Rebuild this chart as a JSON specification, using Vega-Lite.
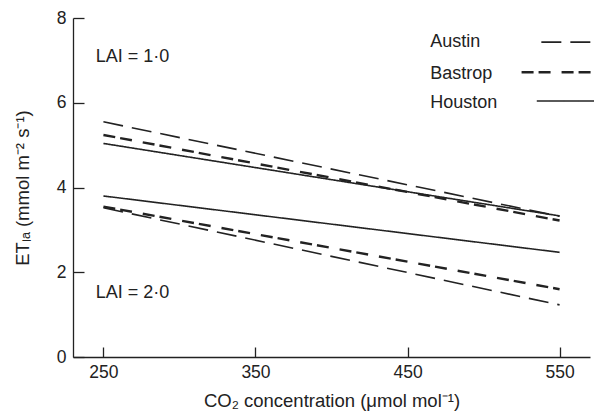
{
  "$schema": "https://vega.github.io/schema/vega-lite/v6.json",
  "autosize": "none",
  "padding": {"left": 73, "top": 18, "right": 4, "bottom": 57},
  "width": 517,
  "height": 339,
  "config": {
    "view": {"stroke": null},
    "font": "Liberation Sans",
    "axis": {"grid": false, "domainColor": "#222", "tickColor": "#222", "labelColor": "#222", "titleColor": "#222", "labelFont": "Liberation Sans", "titleFont": "Liberation Sans", "labelFontSize": 17.5, "titleFontSize": 18.5, "titleFontWeight": "normal", "domainWidth": 1.3, "tickWidth": 1.3}
  },
  "datasets": {
    "lines": [
      {"city": "Austin", "lai": "1.0", "co2": 250, "et": 5.55},
      {"city": "Austin", "lai": "1.0", "co2": 550, "et": 3.32},
      {"city": "Bastrop", "lai": "1.0", "co2": 250, "et": 5.24},
      {"city": "Bastrop", "lai": "1.0", "co2": 550, "et": 3.22},
      {"city": "Houston", "lai": "1.0", "co2": 250, "et": 5.04},
      {"city": "Houston", "lai": "1.0", "co2": 550, "et": 3.33},
      {"city": "Austin", "lai": "2.0", "co2": 250, "et": 3.52},
      {"city": "Austin", "lai": "2.0", "co2": 550, "et": 1.23},
      {"city": "Bastrop", "lai": "2.0", "co2": 250, "et": 3.55},
      {"city": "Bastrop", "lai": "2.0", "co2": 550, "et": 1.6},
      {"city": "Houston", "lai": "2.0", "co2": 250, "et": 3.8},
      {"city": "Houston", "lai": "2.0", "co2": 550, "et": 2.47}
    ],
    "legend": [
      {"city": "Austin", "tx": 465, "x1": 538, "x2": 590, "ty": 7.43, "ly": 7.43},
      {"city": "Bastrop", "tx": 465, "x1": 525, "x2": 590, "ty": 6.67, "ly": 6.72},
      {"city": "Houston", "tx": 465, "x1": 535, "x2": 590, "ty": 5.99, "ly": 6.04}
    ],
    "lai": [
      {"label": "LAI = 1·0", "x": 245, "y": 7.08},
      {"label": "LAI = 2·0", "x": 245, "y": 1.51}
    ]
  },
  "layer": [
    {
      "data": {"name": "lines"},
      "mark": {"type": "line", "color": "#222", "clip": true},
      "encoding": {
        "x": {"field": "co2", "type": "quantitative", "scale": {"domain": [230, 570], "nice": false}, "axis": {"values": [250, 350, 450, 550], "tickSize": -10, "labelPadding": 16, "title": "CO₂ concentration (μmol mol⁻¹)", "titlePadding": 11}},
        "y": {"field": "et", "type": "quantitative", "scale": {"domain": [0, 8], "nice": false}, "axis": {"values": [0, 2, 4, 6, 8], "tickSize": -11, "labelPadding": 18, "title": "ETₗₐ (mmol m⁻² s⁻¹)", "titlePadding": 24}},
        "detail": {"field": "lai"},
        "strokeDash": {"field": "city", "type": "nominal", "scale": {"domain": ["Austin", "Bastrop", "Houston"], "range": [[20, 9], [12, 5, 12, 11], [1, 0]]}, "legend": null},
        "strokeWidth": {"condition": {"test": "datum.city === 'Bastrop'", "value": 2.4}, "value": 1.6}
      }
    },
    {
      "data": {"name": "legend"},
      "mark": {"type": "text", "align": "left", "baseline": "middle", "fontSize": 18, "color": "#222"},
      "encoding": {
        "x": {"field": "tx", "type": "quantitative"},
        "y": {"field": "ty", "type": "quantitative"},
        "text": {"field": "city"}
      }
    },
    {
      "data": {"name": "legend"},
      "mark": {"type": "rule", "color": "#222"},
      "encoding": {
        "x": {"field": "x1", "type": "quantitative"},
        "x2": {"field": "x2"},
        "y": {"field": "ly", "type": "quantitative"},
        "strokeDash": {"field": "city", "type": "nominal", "legend": null},
        "strokeWidth": {"condition": {"test": "datum.city === 'Bastrop'", "value": 2.4}, "value": 1.6}
      }
    },
    {
      "data": {"name": "lai"},
      "mark": {"type": "text", "align": "left", "baseline": "middle", "fontSize": 18, "color": "#222"},
      "encoding": {
        "x": {"field": "x", "type": "quantitative"},
        "y": {"field": "y", "type": "quantitative"},
        "text": {"field": "label"}
      }
    }
  ]
}
